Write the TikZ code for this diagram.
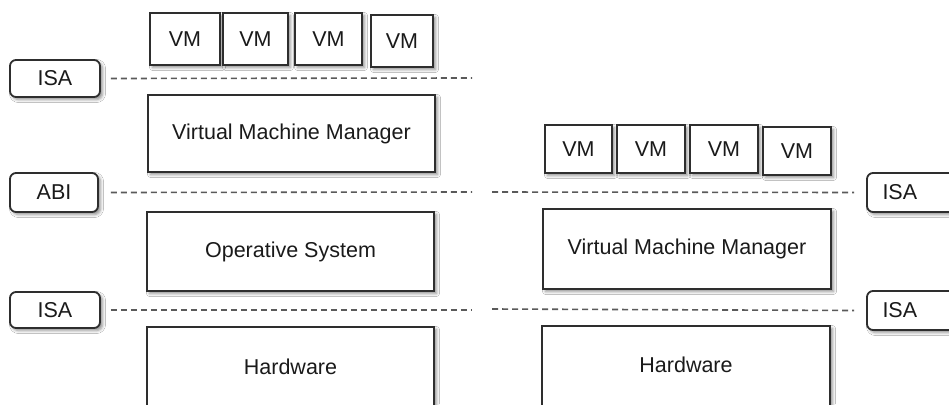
\documentclass[tikz,border=0pt]{standalone}
\usepackage{fontspec}
\setmainfont{Liberation Sans}
\usetikzlibrary{shadows.blur}
\definecolor{edge}{HTML}{2E2E2E}
\definecolor{ink}{HTML}{1A1A1A}
\definecolor{dashc}{HTML}{5A5A5A}
\tikzset{
  shad/.style={blur shadow={shadow xshift=2.5pt,shadow yshift=-2.5pt,shadow blur radius=3pt,shadow opacity=45}},
  layer/.style={draw=edge,line width=1.8pt,fill=white,shad,inner sep=0pt,text=ink,font=\fontsize{21.5}{24}\selectfont},
  tag/.style={layer,rounded corners=6pt},
  dashline/.style={draw=dashc,line width=1.6pt,dash pattern=on 6pt off 4pt},
}
\begin{document}
\begin{tikzpicture}[x=1pt,y=-1pt]
\useasboundingbox (0,0) rectangle (949,404);
\clip (0,0) rectangle (949,404);
\fill[white] (0,0) rectangle (949,404);
% ---------- left stack ----------
\node[layer,minimum width=70pt,minimum height=52pt] (lvm1) at (185,39) {VM};
\node[layer,minimum width=65pt,minimum height=52pt] (lvm2) at (255.5,39) {VM};
\node[layer,minimum width=67pt,minimum height=52pt] (lvm3) at (328.5,39) {VM};
\node[layer,minimum width=62pt,minimum height=52pt] (lvm4) at (402,41) {VM};
\node[tag,minimum width=90pt,minimum height=37pt] (lisa1) at (55,78.5) {ISA};
\node[layer,minimum width=287pt,minimum height=77pt] (lvmm) at (291.5,133.5) {Virtual Machine Manager};
\node[tag,minimum width=88pt,minimum height=39pt] (labi) at (54,192.5) {ABI};
\node[layer,minimum width=287pt,minimum height=79pt] (los) at (290.5,251.5) {Operative System};
\node[tag,minimum width=90pt,minimum height=36pt] (lisa2) at (55,310) {ISA};
\node[layer,minimum width=287pt,minimum height=110pt] (lhw) at (290.5,382) {};
\node[text=ink,font=\fontsize{21.5}{24}\selectfont] (lhwt) at (290.5,367) {Hardware};
\coordinate (le1) at (472,78);
\coordinate (le2) at (472,192);
\coordinate (le3) at (472,310);
\draw[dashline] ([xshift=10pt]lisa1.east) -- (le1);
\draw[dashline] ([xshift=12pt]labi.east) -- (le2);
\draw[dashline] ([xshift=10pt]lisa2.east) -- (le3);
% ---------- right stack ----------
\node[layer,minimum width=67pt,minimum height=48pt] (rvm1) at (578.5,149) {VM};
\node[layer,minimum width=68pt,minimum height=48pt] (rvm2) at (651,149) {VM};
\node[layer,minimum width=68pt,minimum height=48pt] (rvm3) at (724,149) {VM};
\node[layer,minimum width=68pt,minimum height=48pt] (rvm4) at (797,151) {VM};
\node[tag,minimum width=93pt,minimum height=39pt,text width=70pt,align=left] (risa1) at (913.5,192.5) {\hspace*{4pt}ISA};
\node[layer,minimum width=288pt,minimum height=80pt] (rvmm) at (687,249) {Virtual Machine Manager};
\node[tag,minimum width=93pt,minimum height=39pt,text width=70pt,align=left] (risa2) at (913.5,310.5) {\hspace*{4pt}ISA};
\node[layer,minimum width=288pt,minimum height=110pt] (rhw) at (686,381) {};
\node[text=ink,font=\fontsize{21.5}{24}\selectfont] (rhwt) at (686,365) {Hardware};
\coordinate (rs1) at (492,192);
\coordinate (rs2) at (492,309);
\draw[dashline] (rs1) -- ([xshift=-12pt]risa1.west);
\draw[dashline] (rs2) -- ([xshift=-12pt]risa2.west);
\end{tikzpicture}
\end{document}
